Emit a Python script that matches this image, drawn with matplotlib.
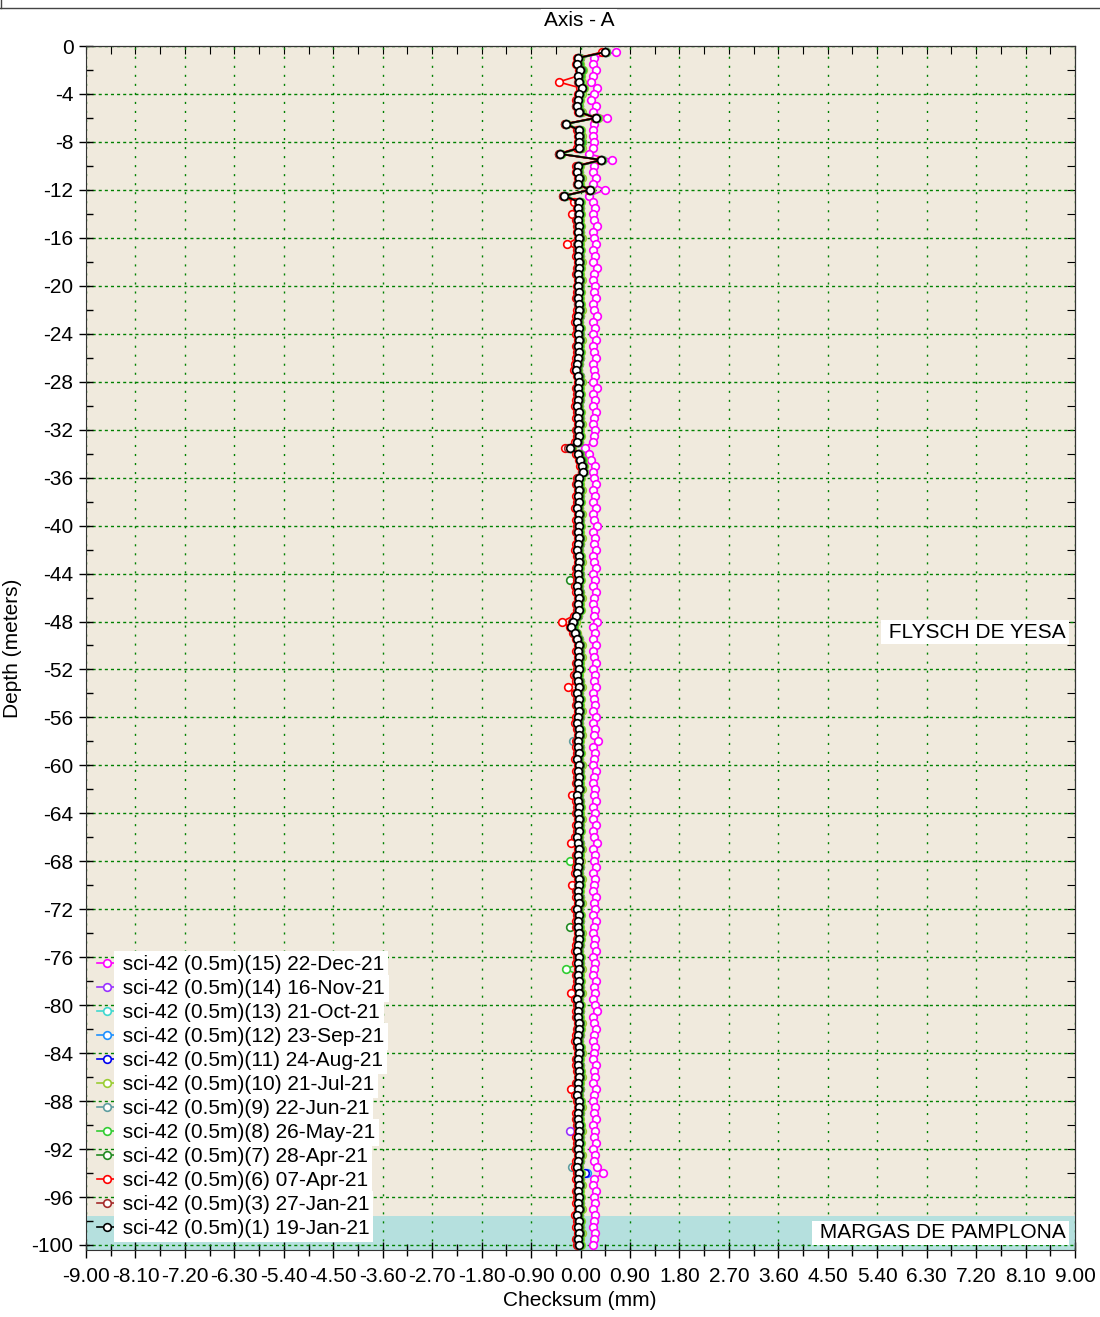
import numpy as np
import matplotlib.pyplot as plt
from matplotlib.lines import Line2D

plt.rcParams['font.family'] = ['Liberation Sans', 'DejaVu Sans']
plt.rcParams['lines.scale_dashes'] = False

# readings every 0.5 m down to -100 m
depth = -0.5 * np.arange(1, 201)

# checksum values, in hundredths of a mm (one row = 5 m)
s15 = [64, 25, 22, 28, 22, 20, 30, 25, 20, 28,
       22, 49, 25, 22, 22, 25, 22, 15, 58, 25,
       22, 28, 22, 45, 16, 22, 27, 22, 25, 30,
       22, 25, 28, 22, 26, 22, 30, 24, 22, 27,
       24, 28, 22, 25, 30, 22, 26, 23, 28, 22,
       25, 29, 22, 24, 27, 22, 30, 23, 26, 22,
       28, 24, 22, 27, 25, 22, 8, 15, 20, 27,
       22, 25, 29, 22, 26, 23, 28, 22, 25, 30,
       22, 26, 24, 28, 22, 25, 29, 23, 26, 22,
       28, 24, 22, 27, 25, 30, 22, 26, 23, 28,
       22, 25, 29, 22, 26, 24, 28, 22, 25, 27,
       23, 29, 22, 26, 25, 31, 22, 27, 24, 22,
       28, 25, 22, 27, 24, 29, 22, 26, 23, 28,
       22, 25, 30, 22, 26, 24, 28, 22, 27, 25,
       22, 29, 24, 26, 22, 28, 25, 22, 27, 24,
       29, 22, 26, 25, 22, 28, 24, 27, 22, 26,
       30, 22, 25, 28, 24, 22, 27, 25, 22, 29,
       24, 26, 22, 28, 25, 22, 27, 24, 29, 22,
       26, 25, 28, 22, 26, 24, 30, 41, 25, 22,
       28, 24, 26, 22, 27, 25, 22, 26, 24, 23]

s14 = [45, -4, -5, 0, -4, -2, 3, -2, -5, -6,
       -2, 28, -27, -3, -2, -2, -2, -38, 38, -5,
       -6, -2, -5, 17, -30, -3, -4, -3, -5, -3,
       -4, -2, -5, -3, -4, -2, -3, -5, -2, -4,
       -3, -5, -3, -2, -4, -6, -3, -4, -2, -5,
       -3, -4, -6, -8, -4, -2, -5, -3, -4, -6,
       -3, -4, -2, -5, -3, -6, -20, -4, 0, 3,
       4, -3, -5, -2, -4, -3, -6, -2, -4, -3,
       -5, -2, -4, -6, -3, -2, -5, -4, -3, -6,
       -4, -2, -5, -3, -8, -14, -17, -10, -6, -2,
       -4, -2, -5, -3, -7, -4, -2, -6, -3, -5,
       -2, -4, -6, -3, -2, -5, -4, -3, -6, -2,
       -4, -3, -5, -2, -6, -4, -3, -5, -2, -4,
       -3, -6, -4, -2, -5, -3, -4, -6, -2, -3,
       -5, -4, -2, -6, -3, -4, -5, -2, -3, -4,
       -6, -3, -4, -2, -5, -3, -4, -2, -6, -3,
       -4, -5, -2, -3, -4, -6, -3, -2, -5, -4,
       -3, -2, -5, -4, -6, -3, -2, -4, -5, -3,
       -20, -4, -3, -5, -2, -4, -6, -3, -4, -2,
       -5, -3, -4, -2, -6, -3, -4, -2, -5, -3]

s13 = [45, -3, -5, 1, -3, -1, 4, -1, -4, -6,
       -1, 28, -26, -2, -1, -1, -1, -37, 38, -4,
       -5, -1, -4, 17, -29, -2, -3, -2, -4, -2,
       -3, -1, -4, -2, -3, -1, -2, -4, -1, -3,
       -2, -4, -2, -1, -3, -5, -2, -3, -1, -4,
       -2, -3, -5, -7, -3, -1, -4, -2, -3, -5,
       -2, -3, -1, -4, -2, -5, -19, -3, 1, 4,
       5, -2, -4, -1, -3, -2, -5, -1, -3, -2,
       -4, -1, -3, -5, -2, -1, -4, -3, -2, -5,
       -3, -1, -4, -2, -7, -13, -16, -9, -5, -1,
       -3, -1, -4, -2, -6, -3, -1, -5, -2, -4,
       -1, -3, -5, -2, -1, -4, -3, -2, -5, -1,
       -3, -2, -4, -1, -5, -3, -2, -4, -1, -3,
       -2, -5, -3, -1, -4, -2, -3, -5, -1, -2,
       -4, -3, -1, -5, -2, -3, -4, -1, -2, -3,
       -5, -2, -3, -1, -4, -2, -3, -1, -5, -2,
       -3, -4, -1, -2, -3, -5, -2, -1, -4, -3,
       -2, -1, -4, -3, -5, -2, -1, -3, -4, -2,
       -1, -3, -2, -4, -1, -3, -5, 2, -3, -1,
       -4, -2, -3, -1, -5, -2, -3, -1, -4, -2]

s12 = [46, -2, -3, 2, -1, 0, 4, 0, -3, -4,
       0, 29, -26, -1, 0, 1, 0, -37, 39, -3,
       -4, 0, -3, 18, -29, -1, -2, -1, -3, -1,
       -2, 0, -3, -1, -2, 0, -1, -3, 0, -2,
       -1, -3, -1, 0, -2, -4, -1, -2, 0, -3,
       -1, -2, -4, -6, -2, 0, -3, -1, -2, -4,
       -1, -2, 0, -3, -1, -4, -18, -2, 2, 4,
       5, -1, -3, 0, -2, -1, -4, 0, -2, -1,
       -3, 0, -2, -4, -1, 0, -3, -2, -1, -4,
       -2, 0, -3, -1, -6, -12, -15, -9, -4, 0,
       -2, 0, -3, -1, -5, -2, 0, -4, -1, -3,
       0, -2, -4, -1, 0, -3, -2, -1, -4, 0,
       -2, -1, -3, 0, -4, -2, -1, -3, 0, -2,
       -1, -4, -2, 0, -3, -1, -2, -4, 0, -1,
       -3, -2, 0, -4, -1, -2, -3, 0, -1, -2,
       -4, -1, -2, 0, -3, -1, -2, 0, -4, -1,
       -2, -3, 0, -1, -2, -4, -1, 0, -3, -2,
       -1, 0, -3, -2, -4, -1, 0, -2, -3, -1,
       0, -2, -1, -3, 0, -2, -4, 11, -2, 0,
       -3, -1, -2, 0, -4, -1, -2, 0, -3, -1]

s11 = [46, -1, -2, 3, 0, 1, 5, 1, -2, -3,
       1, 30, -26, 0, 1, 2, 1, -37, 39, -2,
       -3, 1, -2, 19, -29, 0, -1, 0, -2, 0,
       -1, 1, -2, 0, -1, 1, 0, -2, 1, -1,
       0, -2, 0, 1, -1, -3, 0, -1, 1, -2,
       0, -1, -3, -5, -1, 1, -2, 0, -1, -3,
       0, -1, 1, -2, 0, -3, -17, -1, 3, 5,
       6, 0, -2, 1, -1, 0, -3, 1, -1, 0,
       -2, 1, -1, -3, 0, 1, -2, -1, 0, -3,
       -1, 1, -2, 0, -5, -10, -14, -8, -3, 1,
       -1, 1, -2, 0, -4, -1, 1, -3, 0, -2,
       1, -1, -3, 0, 1, -2, -1, 0, -3, 1,
       -1, 0, -2, 1, -3, -1, 0, -2, 1, -1,
       0, -3, -1, 1, -2, 0, -1, -3, 1, 0,
       -2, -1, 1, -3, 0, -1, -2, 1, 0, -1,
       -3, 0, -1, 1, -2, 0, -1, 1, -3, 0,
       -1, -2, 1, 0, -1, -3, 0, 1, -2, -1,
       0, 1, -2, -1, -3, 0, 1, -1, -2, 0,
       1, -1, 0, -2, 1, -1, -3, 8, -1, 1,
       -2, 0, -1, 1, -3, 0, -1, 1, -2, 0]

s10 = [47, 0, -1, 4, 1, 2, 6, 2, -1, -2,
       2, 31, -25, 1, 2, 3, 2, -35, 40, -1,
       -2, 2, -1, 20, -28, 1, 0, 1, -1, 1,
       0, 2, -1, 1, 0, 2, 1, -1, 2, 0,
       1, -1, 1, 2, 0, -2, 1, 0, 2, -1,
       1, 0, -2, -4, 0, 2, -1, 1, 0, -2,
       1, 0, 2, -1, 1, -2, -15, 0, 4, 6,
       7, 1, -1, 2, 0, 1, -2, 2, 0, 1,
       -1, 2, 0, -2, 1, 2, -1, 0, 1, -2,
       0, 2, -1, 1, -4, -9, -12, -6, -2, 2,
       0, 2, -1, 1, -3, 0, 2, -2, 1, -1,
       2, 0, -2, 1, 2, -1, 0, 1, -2, 2,
       0, 1, -1, 2, -2, 0, 1, -1, 2, 0,
       1, -2, 0, 2, -1, 1, 0, -2, 2, 1,
       -1, 0, 2, -2, 1, 0, -1, 2, 1, 0,
       -2, 1, 0, 2, -1, 1, 0, 2, -2, 1,
       0, -1, 2, 1, 0, -2, 1, 2, -1, 0,
       1, 2, -1, 0, -2, 1, 2, 0, -1, 1,
       2, 0, 1, -1, 2, 0, -2, 1, 0, 2,
       -1, 1, 0, 2, -2, 1, 0, 2, -1, 1]

s9 = [45, -3, -5, 0, -3, -1, 3, -1, -4, -6,
      -1, 29, -27, -2, -1, -1, -1, -38, 38, -4,
      -5, -1, -4, 17, -30, -2, -3, -2, -4, -2,
      -3, -1, -4, -2, -3, -1, -2, -4, -1, -3,
      -2, -4, -2, -1, -3, -5, -2, -3, -1, -4,
      -2, -3, -5, -7, -3, -1, -4, -2, -3, -5,
      -2, -3, -1, -4, -2, -5, -19, -3, 1, 3,
      4, -2, -4, -1, -3, -2, -5, -1, -3, -2,
      -4, -1, -3, -5, -2, -1, -4, -3, -2, -5,
      -3, -1, -4, -2, -7, -13, -16, -9, -5, -1,
      -3, -1, -4, -2, -6, -3, -1, -5, -2, -4,
      -1, -3, -5, -2, -1, -13, -3, -2, -5, -1,
      -3, -2, -4, -1, -5, -3, -2, -4, -1, -3,
      -2, -5, -3, -1, -4, -2, -3, -5, -1, -2,
      -4, -3, -1, -5, -2, -3, -4, -1, -2, -3,
      -5, -2, -3, -1, -4, -2, -3, -1, -5, -2,
      -3, -4, -1, -2, -3, -5, -2, -1, -4, -3,
      -2, -1, -4, -3, -5, -2, -1, -3, -4, -2,
      -1, -3, -2, -4, -1, -3, -15, -2, -3, -1,
      -4, -2, -3, -1, -5, -2, -3, -1, -4, -2]

s8 = [46, -2, -3, 2, -1, 0, 4, 0, -3, -4,
      0, 30, -26, -1, 0, 1, 0, -36, 39, -3,
      -4, 0, -3, 18, -29, -1, -2, -1, -3, -1,
      -2, 0, -3, -1, -2, 0, -1, -3, 0, -2,
      -1, -3, -1, 0, -2, -4, -1, -2, 0, -3,
      -1, -2, -4, -6, -2, 0, -3, -1, -2, -4,
      -1, -2, 0, -3, -1, -4, -17, -2, 2, 5,
      5, -1, -3, 0, -2, -1, -4, 0, -2, -1,
      -3, 0, -2, -4, -1, 0, -3, -2, -1, -4,
      -2, 0, -3, -1, -6, -11, -13, -10, -4, 0,
      -2, 0, -3, -1, -5, -2, 0, -4, -1, -3,
      0, -2, -4, -1, 0, -3, -2, -1, -4, 0,
      -2, -1, -3, 0, -4, -2, -1, -3, 0, -2,
      -1, -4, -2, 0, -3, -20, -2, -4, 0, -1,
      -3, -2, 0, -4, -1, -2, -3, 0, -1, -2,
      -4, -1, -2, -26, -3, -1, -2, 0, -4, -1,
      -2, -3, 0, -1, -2, -4, -1, 0, -3, -2,
      -1, 0, -3, -2, -4, -1, 0, -2, -3, -1,
      0, -2, -1, -3, 0, -2, -4, -1, -2, 0,
      -3, -1, -2, 0, -4, -1, -2, 0, -3, -1]

s7 = [43, -5, -4, 1, -3, -3, 2, -2, -4, -6,
      -1, 27, -28, -2, -1, -1, -1, -40, 37, -4,
      -5, -1, -4, 16, -30, -2, -3, -2, -4, -2,
      -3, -1, -4, -2, -3, -1, -2, -4, -1, -3,
      -2, -4, -2, -1, -3, -5, -2, -3, -1, -4,
      -2, -3, -5, -7, -3, -1, -4, -2, -3, -5,
      -2, -3, -1, -4, -2, -5, -18, -3, 1, 4,
      5, -2, -4, -1, -3, -2, -5, -1, -3, -2,
      -4, -1, -3, -5, -2, -1, -4, -3, -19, -5,
      -3, -1, -4, -2, -7, -12, -15, -9, -5, -1,
      -3, -1, -4, -2, -6, -3, -1, -5, -2, -4,
      -1, -3, -5, -2, -1, -4, -3, -2, -5, -1,
      -3, -2, -4, -1, -5, -3, -2, -4, -1, -3,
      -2, -5, -3, -1, -4, -2, -3, -5, -1, -2,
      -4, -3, -1, -5, -2, -3, -19, -1, -2, -3,
      -5, -2, -3, -1, -4, -2, -3, -1, -5, -2,
      -3, -4, -1, -2, -3, -5, -2, -1, -4, -3,
      -2, -1, -4, -3, -5, -2, -1, -3, -4, -2,
      -1, -3, -2, -4, -1, -3, -5, -2, -3, -1,
      -4, -2, -3, -1, -5, -2, -3, -1, -4, -2]

s6 = [40, -6, -8, -2, -5, -40, 0, -5, -8, -9,
      -5, 26, -29, -6, -5, -4, -6, -40, 36, -8,
      -9, -5, -7, 15, -32, -12, -6, -16, -8, -6,
      -7, -5, -24, -6, -8, -5, -7, -9, -5, -7,
      -6, -9, -5, -7, -8, -10, -6, -8, -5, -9,
      -6, -8, -10, -12, -7, -5, -9, -6, -8, -10,
      -6, -8, -5, -9, -6, -10, -28, -8, -3, 0,
      2, -7, -9, -5, -8, -6, -10, -5, -8, -6,
      -9, -5, -8, -10, -7, -5, -9, -8, -6, -10,
      -8, -5, -9, -7, -12, -33, -20, -14, -9, -5,
      -8, -5, -9, -6, -11, -8, -23, -10, -6, -9,
      -5, -8, -10, -7, -5, -9, -8, -6, -10, -5,
      -8, -6, -9, -5, -16, -8, -6, -9, -5, -8,
      -6, -10, -18, -5, -9, -6, -8, -10, -5, -16,
      -9, -8, -5, -10, -6, -8, -9, -5, -6, -8,
      -10, -6, -8, -5, -9, -6, -8, -17, -10, -6,
      -8, -9, -5, -6, -8, -10, -6, -5, -9, -8,
      -6, -5, -9, -18, -10, -6, -5, -8, -9, -6,
      -5, -8, -6, -9, -5, -8, -10, -6, -8, -5,
      -9, -6, -8, -5, -10, -6, -8, -5, -9, -6]

s3 = [44, -5, -7, -1, -5, -4, 2, -3, -6, -8,
      -3, 27, -28, -4, -3, -3, -3, -39, 37, -6,
      -7, -3, -6, 16, -31, -4, -5, -4, -6, -4,
      -5, -3, -6, -4, -5, -3, -4, -6, -3, -5,
      -4, -6, -4, -3, -5, -7, -4, -5, -3, -6,
      -4, -5, -7, -9, -5, -3, -6, -4, -5, -7,
      -4, -5, -3, -6, -4, -7, -22, -5, -1, 2,
      3, -4, -6, -3, -5, -4, -7, -3, -5, -4,
      -6, -3, -5, -7, -4, -3, -6, -5, -4, -7,
      -5, -3, -6, -4, -9, -16, -18, -11, -7, -3,
      -5, -3, -6, -4, -8, -5, -3, -7, -4, -6,
      -3, -5, -7, -4, -3, -6, -5, -4, -7, -3,
      -5, -4, -6, -3, -7, -5, -4, -6, -3, -5,
      -4, -7, -5, -3, -6, -4, -5, -7, -3, -4,
      -6, -5, -3, -7, -4, -5, -6, -3, -4, -5,
      -7, -4, -5, -3, -6, -4, -5, -3, -7, -4,
      -5, -6, -3, -4, -5, -7, -4, -3, -6, -5,
      -4, -3, -6, -5, -7, -4, -3, -5, -6, -4,
      -3, -5, -4, -6, -3, -5, -7, -4, -5, -3,
      -6, -4, -5, -3, -7, -4, -5, -3, -6, -4]

s1 = [45, -4, -6, 0, -4, -2, 3, -2, -5, -7,
      -2, 28, -27, -3, -2, -2, -2, -38, 38, -5,
      -6, -2, -5, 17, -30, -3, -4, -3, -5, -3,
      -4, -2, -5, -3, -4, -2, -3, -5, -2, -4,
      -3, -5, -3, -2, -4, -6, -3, -4, -2, -5,
      -3, -4, -6, -8, -4, -2, -5, -3, -4, -6,
      -3, -4, -2, -5, -3, -6, -20, -4, 0, 3,
      4, -3, -5, -2, -4, -3, -6, -2, -4, -3,
      -5, -2, -4, -6, -3, -2, -5, -4, -3, -6,
      -4, -2, -5, -3, -8, -14, -17, -10, -6, -2,
      -4, -2, -5, -3, -7, -4, -2, -6, -3, -5,
      -2, -4, -6, -3, -2, -5, -4, -3, -6, -2,
      -4, -3, -5, -2, -6, -4, -3, -5, -2, -4,
      -3, -6, -4, -2, -5, -3, -4, -6, -2, -3,
      -5, -4, -2, -6, -3, -4, -5, -2, -3, -4,
      -6, -3, -4, -2, -5, -3, -4, -2, -6, -3,
      -4, -5, -2, -3, -4, -6, -3, -2, -5, -4,
      -3, -2, -5, -4, -6, -3, -2, -4, -5, -3,
      -2, -4, -3, -5, -2, -4, -6, -3, -4, -2,
      -5, -3, -4, -2, -6, -3, -4, -2, -5, -3]

labels = ['sci-42 (0.5m)(15) 22-Dec-21', 'sci-42 (0.5m)(14) 16-Nov-21',
          'sci-42 (0.5m)(13) 21-Oct-21', 'sci-42 (0.5m)(12) 23-Sep-21',
          'sci-42 (0.5m)(11) 24-Aug-21', 'sci-42 (0.5m)(10) 21-Jul-21',
          'sci-42 (0.5m)(9) 22-Jun-21', 'sci-42 (0.5m)(8) 26-May-21',
          'sci-42 (0.5m)(7) 28-Apr-21', 'sci-42 (0.5m)(6) 07-Apr-21',
          'sci-42 (0.5m)(3) 27-Jan-21', 'sci-42 (0.5m)(1) 19-Jan-21']
colors = ['#FF00FF', '#9933FF', '#40D8D0', '#1E90FF', '#0000EE', '#9ACD32',
          '#5F9EA0', '#32CD32', '#228B22', '#FF0000', '#A52A2A', '#000000']
series = [s15, s14, s13, s12, s11, s10, s9, s8, s7, s6, s3, s1]

FS = 15

fig = plt.figure(figsize=(11, 13.17), dpi=100)
ax = fig.add_axes([86 / 1100, 1 - 1250 / 1317, 989 / 1100, 1204 / 1317])
ax.set_facecolor('#F0EADD')
ax.axhspan(-100.42, -97.6, color='#B5E0DE', lw=0, zorder=0.2)

for vals, lab, col in zip(series, labels, colors):
    ax.plot(np.array(vals) / 100, depth, color=col, lw=1.2, marker='o', ms=5.5,
            mfc='white', mec=col, mew=1.2, label=' ' + lab, zorder=3)

ax.set_xlim(-9, 9)
ax.set_ylim(-100.42, 0)

xt = np.arange(-9, 9.01, 0.9)
ax.set_xticks(xt)
ax.set_xticklabels([f"{round(v, 2) + 0.0:.2f}" for v in xt], fontsize=FS)
ax.set_xticks(np.arange(-9, 9.01, 0.45), minor=True)
yt = np.arange(-100, 0.1, 4)
ax.set_yticks(yt)
ax.set_yticklabels([f"{int(v)}" for v in yt], fontsize=FS)
ax.set_yticks(np.arange(-100, 0.1, 2), minor=True)

ax.tick_params(axis='x', which='major', direction='inout', length=12, width=1, pad=6)
ax.tick_params(axis='x', which='minor', direction='inout', length=8, width=1)
ax.tick_params(axis='y', which='major', direction='inout', length=10, width=1, pad=4)
ax.tick_params(axis='y', which='minor', direction='in', length=5, width=1)

top = ax.secondary_xaxis('top')
top.set_xticks(np.arange(-9, 9.01, 0.45))
top.tick_params(direction='in', length=6, labeltop=False)
right = ax.secondary_yaxis('right')
right.set_yticks(np.arange(-100, 0.1, 2))
right.tick_params(direction='in', length=6, labelright=False)

ax.set_axisbelow(True)
ax.xaxis.grid(True, which='major', color='#008000', lw=1, linestyle=(0, (1.5, 5)))
ax.yaxis.grid(True, which='major', color='#008000', lw=1, linestyle=(0, (2.2, 2.2)))
for sp in ax.spines.values():
    sp.set_color('#333333')

leg = ax.legend(loc='upper left', bbox_to_anchor=(0.011, 0.245), frameon=False,
                fontsize=FS, handlelength=0.98, handletextpad=0.0,
                labelspacing=0.24, borderpad=0, borderaxespad=0)
for t in leg.get_texts():
    t.set_bbox(dict(facecolor='white', edgecolor='none', boxstyle='square,pad=0.17'))

box = dict(facecolor='white', edgecolor='none', boxstyle='square,pad=0.12')
ax.text(0.991, -48.9, ' FLYSCH DE YESA', transform=ax.get_yaxis_transform(),
        ha='right', va='center', fontsize=FS, bbox=box, zorder=5)
ax.text(0.991, -99.0, ' MARGAS DE PAMPLONA', transform=ax.get_yaxis_transform(),
        ha='right', va='center', fontsize=FS, bbox=box, zorder=5)

fig.add_artist(Line2D([0, 1], [1 - 8 / 1317] * 2, color='#444444', lw=1))
fig.add_artist(Line2D([0.0006, 0.0006], [1 - 8 / 1317, 1], color='#444444', lw=1))
fig.text(579 / 1100, 1 - 21 / 1317, 'Axis - A', ha='center', va='center', fontsize=FS,
         bbox=dict(facecolor='white', edgecolor='none', boxstyle='square,pad=0.12'))
fig.text(12 / 1100, 1 - 648 / 1317, 'Depth (meters)', rotation=90,
         ha='center', va='center', fontsize=FS)
fig.text(580 / 1100, 1 - 1301 / 1317, 'Checksum (mm)', ha='center', va='center', fontsize=FS)

fig.savefig('out.png', dpi=100)
